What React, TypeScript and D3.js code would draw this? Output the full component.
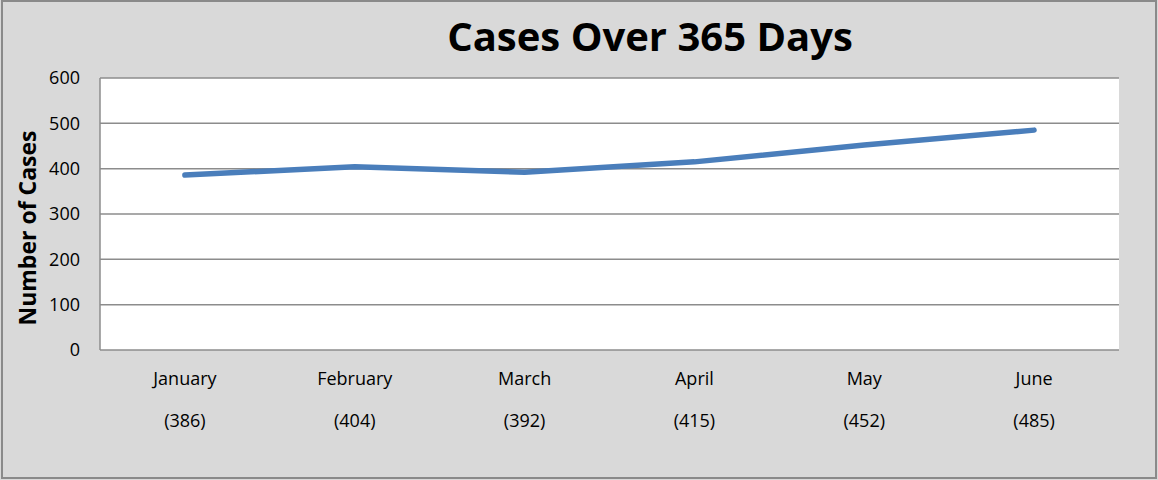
import { useEffect, useRef } from "react"
import * as d3 from "d3"

const months = ["January", "February", "March", "April", "May", "June"]
const cases = [386, 404, 392, 415, 452, 485]
const yTicks = [0, 100, 200, 300, 400, 500, 600]

const W = 1158
const H = 480
const FONT = "'Open Sans', 'Liberation Sans', sans-serif"

export default function App() {
  const svgRef = useRef<SVGSVGElement>(null)

  useEffect(() => {
    if (!svgRef.current) return
    const svg = d3.select(svgRef.current)
    svg.selectAll("*").remove()

    const margin = { top: 78, right: 39, bottom: 130, left: 100 }
    const iw = W - margin.left - margin.right
    const ih = H - margin.top - margin.bottom

    // background + outer border
    svg.append("rect").attr("width", W).attr("height", H).attr("fill", "#d9d9d9")
    svg
      .append("rect")
      .attr("x", 2)
      .attr("y", 1)
      .attr("width", W - 4)
      .attr("height", H - 3)
      .attr("fill", "none")
      .attr("stroke", "#8a8a8a")
      .attr("stroke-width", 2)

    const g = svg.append("g").attr("transform", `translate(${margin.left},${margin.top})`)

    const x = d3.scalePoint<string>().domain(months).range([0, iw]).padding(0.5)
    const y = d3.scaleLinear().domain([0, 600]).range([ih, 0])

    // plot area
    g.append("rect").attr("width", iw).attr("height", ih).attr("fill", "white")

    // gridlines
    g.selectAll(".grid")
      .data(yTicks)
      .enter()
      .append("line")
      .attr("x1", 0)
      .attr("x2", iw)
      .attr("y1", (d) => y(d))
      .attr("y2", (d) => y(d))
      .attr("stroke", "#8c8c8c")
      .attr("stroke-width", 1.5)

    // left axis line
    g.append("line")
      .attr("x1", 0)
      .attr("x2", 0)
      .attr("y1", 0)
      .attr("y2", ih)
      .attr("stroke", "#8c8c8c")
      .attr("stroke-width", 1.5)

    // y tick labels
    g.selectAll(".ytick")
      .data(yTicks)
      .enter()
      .append("text")
      .attr("x", -20)
      .attr("y", (d) => y(d))
      .attr("dy", "0.35em")
      .attr("text-anchor", "end")
      .style("font-family", FONT)
      .style("font-size", "18px")
      .style("fill", "#000")
      .text((d) => d)

    // x labels: month name and value
    months.forEach((m, i) => {
      g.append("text")
        .attr("x", x(m)!)
        .attr("y", ih + 35)
        .attr("text-anchor", "middle")
        .style("font-family", FONT)
        .style("font-size", "18px")
        .text(m)
      g.append("text")
        .attr("x", x(m)!)
        .attr("y", ih + 77)
        .attr("text-anchor", "middle")
        .style("font-family", FONT)
        .style("font-size", "18px")
        .text(`(${cases[i]})`)
    })

    // line
    const line = d3
      .line<number>()
      .x((d, i) => x(months[i])!)
      .y((d) => y(d))
    g.append("path")
      .datum(cases)
      .attr("d", line)
      .attr("fill", "none")
      .attr("stroke", "#4a7ebb")
      .attr("stroke-width", 5.5)
      .attr("stroke-linecap", "round")
      .attr("stroke-linejoin", "round")

    // title
    svg
      .append("text")
      .attr("x", 650)
      .attr("y", 51)
      .attr("text-anchor", "middle")
      .style("font-family", FONT)
      .style("font-weight", "bold")
      .style("font-size", "40px")
      .text("Cases Over 365 Days")

    // y axis label
    svg
      .append("text")
      .attr("transform", `translate(36, ${margin.top + ih / 2 + 14}) rotate(-90)`)
      .attr("text-anchor", "middle")
      .style("font-family", FONT)
      .style("font-weight", "bold")
      .style("font-size", "23px")
      .text("Number of Cases")
  }, [])

  return (
    <svg
      ref={svgRef}
      width={W}
      height={H}
      style={{ position: "absolute", left: 0, top: 0, display: "block" }}
    ></svg>
  )
}
